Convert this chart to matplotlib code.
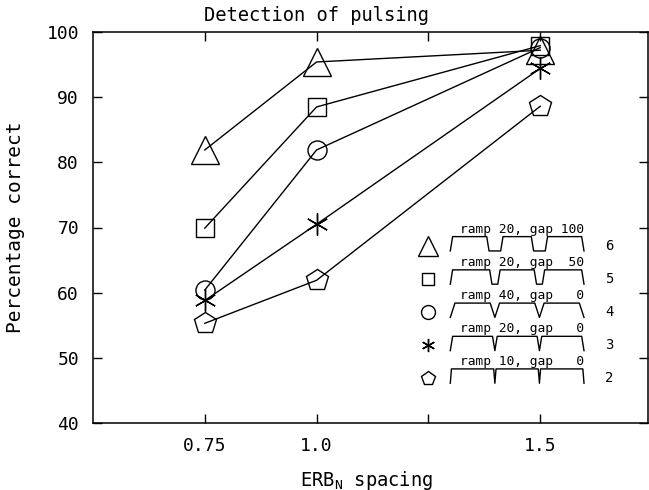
import numpy as np
import matplotlib
matplotlib.use('Agg')
import matplotlib.pyplot as plt
import matplotlib.transforms as mtrans

# data
spacing = [0.75, 1.0, 1.5]
pct_ramp20_gap100 = [81.9, 95.4, 97.2]   # triangle, condition 6
pct_ramp20_gap50 = [69.9, 88.5, 97.9]    # square, condition 5
pct_ramp40_gap0 = [60.4, 81.9, 97.6]     # circle, condition 4
pct_ramp20_gap0 = [58.8, 70.5, 94.4]     # star, condition 3
pct_ramp10_gap0 = [55.3, 61.9, 88.6]     # pentagon, condition 2

ramps = [20, 20, 40, 20, 10]
gaps = [100, 50, 0, 0, 0]
cond_num = [6, 5, 4, 3, 2]
series = [pct_ramp20_gap100, pct_ramp20_gap50, pct_ramp40_gap0,
          pct_ramp20_gap0, pct_ramp10_gap0]

markers = ['^', 's', 'o', (6, 2, 0), 'p']
msize = [20.5, 13, 13.7, 16, 16.5]
leg_msize = [14, 9, 10, 9.5, 10.5]

plt.rcParams['font.family'] = ['DejaVu Sans Mono']
plt.rcParams['mathtext.fontset'] = 'custom'
plt.rcParams['mathtext.rm'] = 'DejaVu Sans Mono'

fig = plt.figure(figsize=(6.49, 4.90), dpi=100)
ax = fig.add_axes([93/649, 67/490, (647.5-93)/649, (423-32)/490])

for vals, mk, ms in zip(series, markers, msize):
    ax.plot(spacing, vals, color='black', lw=1.0, marker=mk, ms=ms,
            mfc='none', mec='black', mew=1.0)

# legend with stimulus envelopes
row_y = [67.2, 62.1, 57.0, 51.9, 46.9]
x_mark, x0, x1, x_num = 1.25, 1.299, 1.598, 1.645
total_ms = 1150.0
scale = (x1 - x0) / total_ms
for ry, mk, ms, r, g, n in zip(row_y, markers, leg_msize, ramps, gaps, cond_num):
    ax.plot([x_mark], [ry], marker=mk, ms=ms, mfc='none', mec='black', mew=1.0)
    bot, top = ry - 0.8, ry + 1.4
    c1, c2 = total_ms/3, 2*total_ms/3
    t = [0, r, c1-g/2-r, c1-g/2, c1+g/2, c1+g/2+r,
         c2-g/2-r, c2-g/2, c2+g/2, c2+g/2+r, total_ms-r, total_ms]
    v = [bot, top, top, bot, bot, top, top, bot, bot, top, top, bot]
    ax.plot(x0 + np.array(t)*scale, v, color='black', lw=1.0)
    ax.text(x1, ry + 2.0, 'ramp %d, gap %3d' % (r, g), ha='right',
            va='baseline', fontsize=9.3)
    ax.text(x_num, ry, str(n), ha='left', va='center', fontsize=10)

ax.set_xlim(0.5, 1.74)
ax.set_ylim(40, 100)
ax.set_xticks([0.75, 1.0, 1.25, 1.5])
ax.set_xticklabels(['0.75', '1.0', '', '1.5'])
ax.set_yticks([40, 50, 60, 70, 80, 90, 100])
ax.tick_params(direction='in', length=6.5, width=1.0, top=True, right=True,
               labelsize=13, pad=10)
for s in ax.spines.values():
    s.set_linewidth(1.1)

trans = mtrans.blended_transform_factory(ax.transData, ax.transAxes)
ax.text(1.0, 1.041, 'Detection of pulsing', transform=trans, ha='center',
        va='center', fontsize=13.5)
ax.set_ylabel('Percentage correct', fontsize=14)
ax.yaxis.set_label_coords(-(93-25)/554.5, 0.5)
fig.text(367/649, 1 - 480/490, 'ERB$_\\mathregular{N}$ spacing', ha='center',
         va='center', fontsize=13.5)

fig.savefig('out.png', dpi=100)
